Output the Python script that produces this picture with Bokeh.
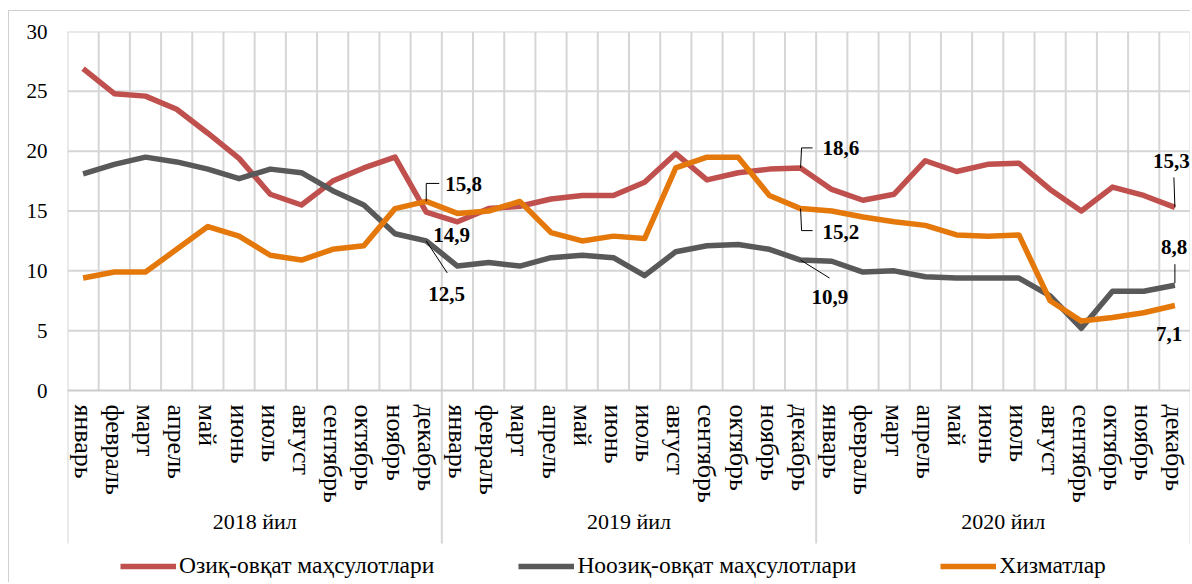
from bokeh.plotting import figure
from bokeh.models import (FactorRange, ColumnDataSource, FixedTicker, LabelSet, Label,
                          Legend, LegendItem, Range1d)
from bokeh.embed import file_html
from bokeh.resources import INLINE

# ---------------- data ----------------
years = ["2018 йил", "2019 йил", "2020 йил"]
months = ["январь", "февраль", "март", "апрель", "май", "июнь", "июль",
          "август", "сентябрь", "октябрь", "ноябрь", "декабрь"]
series_names = ["Озиқ-овқат маҳсулотлари", "Ноозиқ-овқат маҳсулотлари", "Хизматлар"]

food = [26.9, 24.8, 24.6, 23.5, 21.5, 19.4, 16.4, 15.5, 17.5, 18.6, 19.5, 14.9,
        14.1, 15.2, 15.4, 16.0, 16.3, 16.3, 17.4, 19.8, 17.6, 18.2, 18.5, 18.6,
        16.8, 15.9, 16.4, 19.2, 18.3, 18.9, 19.0, 16.8, 15.0, 17.0, 16.3, 15.3]
nonfood = [18.1, 18.9, 19.5, 19.1, 18.5, 17.7, 18.5, 18.2, 16.7, 15.5, 13.1, 12.5,
           10.4, 10.7, 10.4, 11.1, 11.3, 11.1, 9.6, 11.6, 12.1, 12.2, 11.8, 10.9,
           10.8, 9.9, 10.0, 9.5, 9.4, 9.4, 9.4, 7.9, 5.2, 8.3, 8.3, 8.8]
services = [9.4, 9.9, 9.9, 11.8, 13.7, 12.9, 11.3, 10.9, 11.8, 12.1, 15.2, 15.8,
            14.8, 15.0, 15.8, 13.2, 12.5, 12.9, 12.7, 18.6, 19.5, 19.5, 16.3, 15.2,
            15.0, 14.5, 14.1, 13.8, 13.0, 12.9, 13.0, 7.5, 5.8, 6.1, 6.5, 7.1]
y_ticks = [0, 5, 10, 15, 20, 25, 30]

colors = ["#C0504D", "#595959", "#E5780B"]
FONT = "Liberation Serif"
GRID = "#d6d6d6"

factors = [(y, m) for y in years for m in months]
n_cat = len(factors)
y_min, y_max = y_ticks[0], y_ticks[-1]

# ---------------- layout (page pixels) ----------------
PAGE_W, PAGE_H = 1192, 584
OFF_X, OFF_Y = 9, 11              # figure origin on the page (border at 8,10)
W, H = PAGE_W - OFF_X - 1, PAGE_H - OFF_Y - 1
FRAME_LEFT_PG, FRAME_RIGHT_PG, FRAME_TOP_PG = 67, 1190, 31
B_LEFT = FRAME_LEFT_PG - OFF_X
B_RIGHT = (OFF_X + W) - FRAME_RIGHT_PG
B_TOP = FRAME_TOP_PG - OFF_Y
PLOT_H = 359                      # height of the 0..30 plotting band
AXIS_Y = B_TOP + PLOT_H           # figure y of value 0
FRAME_W = W - B_LEFT - B_RIGHT
PX_CAT = FRAME_W / n_cat
PX_UNIT = PLOT_H / (y_max - y_min)
below_units = (H - AXIS_Y) / PX_UNIT


def y_of_page(py):
    """data y for a page pixel row below the plotting band"""
    return y_min - (py - OFF_Y - AXIS_Y) / PX_UNIT


p = figure(width=W, height=H,
           x_range=FactorRange(*factors, factor_padding=0, group_padding=0,
                               subgroup_padding=0, range_padding=0),
           y_range=Range1d(y_min - below_units, y_max),
           output_backend="svg", toolbar_location=None,
           min_border_left=B_LEFT, min_border_right=B_RIGHT,
           min_border_top=B_TOP, min_border_bottom=0)
p.margin = (OFF_Y - 1, 0, 0, OFF_X - 1)
p.styles = {"border-left": "1px solid #d0d0d0", "border-top": "1px solid #d0d0d0"}
p.background_fill_color = "white"
p.border_fill_color = "white"
p.outline_line_color = None
p.xgrid.grid_line_color = None
p.ygrid.grid_line_color = None

# grid lines (between categories, and at the value ticks)
first, last = factors[0], factors[-1]
gx0, gy0, gx1, gy1 = [], [], [], []
for f in factors:
    gx0.append((f[0], f[1], -0.5)); gy0.append(y_min)
    gx1.append((f[0], f[1], -0.5)); gy1.append(y_max)
gx0.append((last[0], last[1], 0.5)); gy0.append(y_min)
gx1.append((last[0], last[1], 0.5)); gy1.append(y_max)
for t in y_ticks[1:]:
    gx0.append((first[0], first[1], -0.5)); gy0.append(t)
    gx1.append((last[0], last[1], 0.5)); gy1.append(t)
p.segment(x0="x0", y0="y0", x1="x1", y1="y1",
          source=ColumnDataSource(dict(x0=gx0, y0=gy0, x1=gx1, y1=gy1)),
          line_color=GRID, line_width=2)

# year separators (and frame edges) running down through the label area
sep_bottom = y_of_page(543)
sx0, sy0, sx1, sy1 = [], [], [], []
for yr in years:
    sx0.append((yr, months[0], -0.5)); sy0.append(y_min)
    sx1.append((yr, months[0], -0.5)); sy1.append(sep_bottom)
sx0.append((last[0], last[1], 0.5)); sy0.append(y_min)
sx1.append((last[0], last[1], 0.5)); sy1.append(sep_bottom)
p.segment(x0="x0", y0="y0", x1="x1", y1="y1",
          source=ColumnDataSource(dict(x0=sx0, y0=sy0, x1=sx1, y1=sy1)),
          line_color=GRID, line_width=2)

# x axis drawn at value 0
xa = p.xaxis[0]
xa.fixed_location = y_min
xa.major_label_orientation = "vertical"
xa.major_label_text_font = FONT
xa.major_label_text_font_size = "26px"
xa.major_label_text_color = "black"
xa.major_label_standoff = 14
xa.major_tick_line_color = None
xa.major_tick_out = 0
xa.major_tick_in = 0
xa.axis_line_color = "#cccccc"
xa.axis_line_width = 2
xa.group_text_color = None
xa.group_text_font_size = "10px"
xa.separator_line_color = None

ya = p.yaxis[0]
ya.ticker = FixedTicker(ticks=y_ticks)
ya.axis_line_color = None
ya.major_tick_line_color = None
ya.minor_tick_line_color = None
ya.major_tick_out = 0
ya.major_tick_in = 0
ya.major_label_standoff = 20
ya.major_label_text_font = FONT
ya.major_label_text_font_size = "21px"
ya.major_label_text_color = "black"

# year group labels
for k, yr in enumerate(years):
    p.add_layout(Label(x=k * len(months) + len(months) / 2, y=y_of_page(521), text=yr,
                       text_font=FONT, text_font_size="22px", text_color="black",
                       text_align="center", text_baseline="middle"))

# series
src = ColumnDataSource(dict(x=factors, food=food, nonfood=nonfood, services=services))
renderers = []
for col, c in zip(["food", "nonfood", "services"], colors):
    r = p.line("x", col, source=src, line_color=c, line_width=5.5, line_join="round")
    renderers.append(r)

# ---------------- data labels ----------------
data = {"food": food, "nonfood": nonfood, "services": services}
# (series, index, text dx, text dy (screen px, down +), leader path in px)
label_specs = [
    ("services", 11, 19, -17, [(0, 0), (0, -18), (13, -18)]),
    ("food", 11, 7, 23, []),
    ("nonfood", 11, 2, 53, [(0, 0), (21, 32)]),
    ("food", 23, 22, -20, [(0, 0), (1, -20), (12, -20)]),
    ("services", 23, 22, 23, [(0, 0), (1, 22), (12, 22)]),
    ("nonfood", 23, 11, 37, [(0, 0), (29, 18)]),
    ("food", 35, -22, -46, [(0, 0), (-1, -30)]),
    ("nonfood", 35, -14, -38, [(0, -2), (0, -21)]),
    ("services", 35, -19, 28, []),
]

lx, ly, lt, lxo, lyo = [], [], [], [], []
lx0, ly0, lx1, ly1 = [], [], [], []
for ser, i, dx, dy, path in label_specs:
    v = data[ser][i]
    yr, mo = factors[i]
    lx.append((yr, mo))
    ly.append(v)
    lt.append(f"{v:.1f}".replace(".", ","))
    lxo.append(dx)
    lyo.append(-dy)
    for (a, b), (c, d) in zip(path[:-1], path[1:]):
        lx0.append((yr, mo, a / PX_CAT))
        ly0.append(v - b / PX_UNIT)
        lx1.append((yr, mo, c / PX_CAT))
        ly1.append(v - d / PX_UNIT)

p.segment(x0="x0", y0="y0", x1="x1", y1="y1",
          source=ColumnDataSource(dict(x0=lx0, y0=ly0, x1=lx1, y1=ly1)),
          line_color="black", line_width=1)

lab_src = ColumnDataSource(dict(x=lx, y=ly, text=lt, xo=lxo, yo=lyo))
p.add_layout(LabelSet(x="x", y="y", text="text", x_offset="xo", y_offset="yo",
                      source=lab_src, text_font=FONT, text_font_size="21px",
                      text_font_style="bold", text_color="black",
                      text_align="left", text_baseline="middle"))

# ---------------- legend ----------------
legend_top_pg = 555
legend_h = 24
legend = Legend(items=[LegendItem(label=n, renderers=[r]) for n, r in zip(series_names, renderers)],
                orientation="horizontal",
                location=(120 - FRAME_LEFT_PG, (OFF_Y + H) - legend_top_pg - legend_h),
                glyph_width=56, glyph_height=legend_h, label_height=legend_h,
                label_standoff=3, spacing=84,
                padding=0, margin=0, border_line_color=None,
                background_fill_alpha=0,
                label_text_font=FONT, label_text_font_size="23.5px",
                label_text_color="black")
p.add_layout(legend)

open("out.html", "w").write(file_html(p, INLINE))
